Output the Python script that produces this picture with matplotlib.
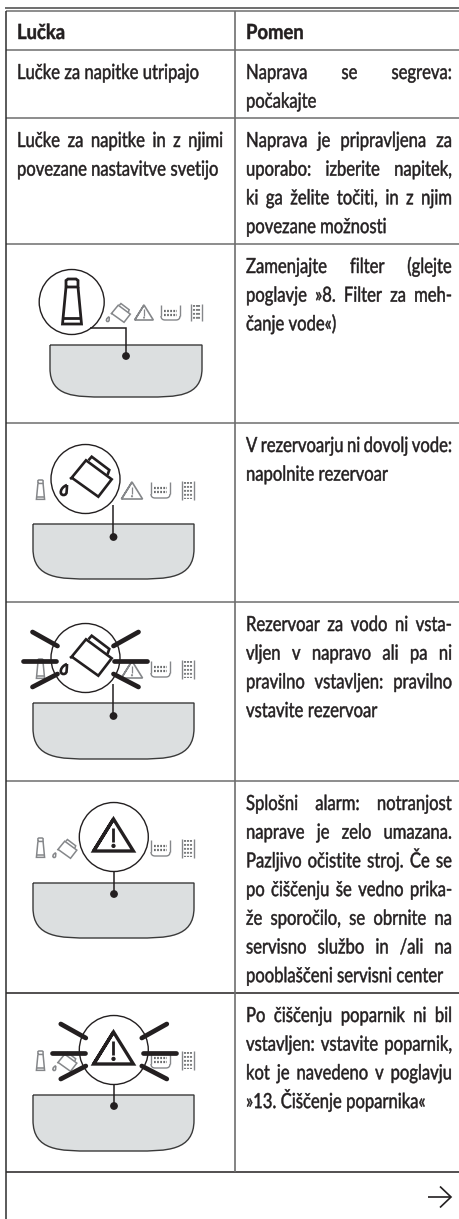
import matplotlib
matplotlib.use("Agg")
import matplotlib.pyplot as plt
from matplotlib.path import Path
from matplotlib.patches import PathPatch, Circle
from matplotlib.patheffects import AbstractPathEffect
from matplotlib.text import Text
from matplotlib.transforms import Affine2D, Bbox

plt.rcParams['font.family'] = ['Lato', 'Open Sans', 'DejaVu Sans']

INK = '#231f20'
GREY = '#85878a'
RULE = '#6e6e6e'
TRAY = '#dcdfe0'

# row edges of the table (pixels from the top)
row_edges = [11, 50, 118, 244, 423, 602, 781, 993, 1172]

header = ["Lučka", "Pomen"]

# first column text, (line, justified)
left_text = {
    1: [("Lučke za napitke utripajo", False)],
    2: [("Lučke za napitke in z njimi", True),
        ("povezane nastavitve svetijo", False)],
}

# second column text, (line, justified)
right_text = {
    1: [("Naprava se segreva:", True), ("počakajte", False)],
    2: [("Naprava je pripravljena za", True), ("uporabo: izberite napitek,", True),
        ("ki ga želite točiti, in z njim", True), ("povezane možnosti", False)],
    3: [("Zamenjajte filter (glejte", True), ("poglavje »8. Filter za meh-", True),
        ("čanje vode«)", False)],
    4: [("V rezervoarju ni dovolj vode:", True), ("napolnite rezervoar", False)],
    5: [("Rezervoar za vodo ni vsta-", True), ("vljen v napravo ali pa ni", True),
        ("pravilno vstavljen: pravilno", True), ("vstavite rezervoar", False)],
    6: [("Splošni alarm: notranjost", True), ("naprave je zelo umazana.", True),
        ("Pazljivo očistite stroj. Če se", True), ("po čiščenju še vedno prika-", True),
        ("že sporočilo, se obrnite na", True), ("servisno službo in /ali na", True),
        ("pooblaščeni servisni center", False)],
    7: [("Po čiščenju poparnik ni bil", True), ("vstavljen: vstavite poparnik,", True),
        ("kot je navedeno v poglavju", True), ("»13. Čiščenje poparnika«", False)],
}

FONT_SIZE = 15.0
LINE_H = 28.7

fig = plt.figure(figsize=(4.6, 12.19), dpi=100)
ax = fig.add_axes([0, 0, 1, 1])
ax.set_xlim(0, 460)
ax.set_ylim(1219, 0)
ax.axis('off')


class Squeeze(AbstractPathEffect):
    # the reference font is condensed, none of the installed ones is
    def __init__(self, sx):
        super().__init__()
        self.sx = sx

    def draw_path(self, renderer, gc, tpath, affine, rgbFace=None):
        m = affine.get_matrix().copy()
        m[0, 0] *= self.sx
        m[0, 1] *= self.sx
        gc0 = renderer.new_gc()
        gc0.copy_properties(gc)
        gc0.set_linewidth(0.35)
        gc0.set_foreground(INK)
        renderer.draw_path(gc0, tpath, Affine2D(m), rgbFace)
        gc0.restore()


class NarrowText(Text):
    sx = 1.0

    def get_window_extent(self, renderer=None, dpi=None):
        bb = super().get_window_extent(renderer, dpi)
        return Bbox.from_extents(bb.x0, bb.y0, bb.x0 + bb.width * self.sx, bb.y1)


def raw_width(s, weight='normal'):
    t = ax.text(0, 0, s, fontsize=FONT_SIZE, fontweight=weight)
    w = t.get_window_extent(fig.canvas.get_renderer()).width
    t.remove()
    return w


# widths measured on the reference
SX = 182 / raw_width("Lučke za napitke utripajo")
SX_BOLD = 58 / raw_width("Pomen", 'bold')


def draw_line(x0, x1, y, line, justified, weight='normal'):
    # las palabras una por una para poder justificar
    sx = SX_BOLD if weight == 'bold' else SX
    words = line.split(' ')
    widths = [raw_width(w, weight) * sx for w in words]
    if justified and len(words) > 1:
        gap = (x1 - x0 - sum(widths)) / (len(words) - 1)
    else:
        gap = (raw_width('a a', weight) - raw_width('aa', weight)) * sx
    x = x0
    for w, wd in zip(words, widths):
        t = NarrowText(x, y, w, fontsize=FONT_SIZE, color=INK, fontweight=weight, ha='left', va='baseline')
        t.sx = sx
        t.set_path_effects([Squeeze(sx)])
        ax.add_artist(t)
        x += wd + gap


def stroke(xs, ys, color=INK, lw=1.0, cap='butt', z=3):
    ax.plot(xs, ys, color=color, lw=lw, solid_capstyle=cap, solid_joinstyle='miter', zorder=z)


def tray(x0, x1, top, bottom):
    w = x1 - x0
    h = bottom - top
    verts = [(x0, top), (x1, top), (x1, top + h * .45),
             (x1, bottom), (x1 - w * .17, bottom), (x1 - w * .36, bottom),
             (x0 + w * .36, bottom),
             (x0 + w * .17, bottom), (x0, bottom), (x0, top + h * .45), (x0, top)]
    codes = [Path.MOVETO, Path.LINETO, Path.LINETO,
             Path.CURVE4, Path.CURVE4, Path.CURVE4,
             Path.LINETO,
             Path.CURVE4, Path.CURVE4, Path.CURVE4, Path.LINETO]
    ax.add_patch(PathPatch(Path(verts, codes), fc=TRAY, ec='#3a3a3a', lw=1.0, zorder=2))


def tube(cx, top, s, color, lw):
    # s=1 is the big tube, 46 px high
    stroke([cx - 6 * s, cx - 6 * s, cx - 4 * s, cx + 4 * s, cx + 6 * s, cx + 6 * s, cx - 6 * s],
           [top + 8 * s, top + 1.5 * s, top, top, top + 1.5 * s, top + 8 * s, top + 8 * s], color, lw)
    stroke([cx - 6 * s, cx - 9.5 * s, cx + 9.5 * s, cx + 6 * s],
           [top + 8 * s, top + 45 * s, top + 45 * s, top + 8 * s], color, lw)
    stroke([cx - 9 * s, cx + 9 * s], [top + 39 * s, top + 39 * s], color, lw)


def pitcher(cx, cy, s, color, lw):
    def P(pts):
        return [cx + p[0] * s for p in pts], [cy + p[1] * s for p in pts]
    xs, ys = P([(-15.5, 0), (-13.8, -1.3), (0.5, -18.7), (26.2, 0.3), (12.8, 17.7), (-13.8, -1.3)])
    stroke(xs, ys, color, lw)
    xs, ys = P([(3, -18.7), (6.2, -22.3), (23.8, -9), (22, -4)])
    stroke(xs, ys, color, lw)
    # gota
    dx, dy = cx - 22 * s, cy + 11.5 * s
    verts = [(dx + 3.5 * s, dy - 5.5 * s), (dx + 3 * s, dy - 1 * s), (dx + 4.5 * s, dy + 4.5 * s), (dx, dy + 4.5 * s),
             (dx - 4.5 * s, dy + 4.5 * s), (dx - 3.5 * s, dy - 3 * s), (dx + 3.5 * s, dy - 5.5 * s)]
    codes = [Path.MOVETO] + [Path.CURVE4] * 6
    ax.add_patch(PathPatch(Path(verts, codes), fc='white', ec=color, lw=lw, zorder=3))


def triangle(cx, top, bottom, color, lw, lw_in):
    half = (bottom - top) * .62
    stroke([cx - half, cx, cx + half, cx - half, cx],
           [bottom, top, bottom, bottom, top], color, lw)
    h = bottom - top
    stroke([cx, cx], [top + h * .28, top + h * .72], color, lw_in)
    ax.add_patch(Circle((cx, top + h * .84), h * .045, fc=color, ec=color, lw=lw_in * .5, zorder=3))


def water_box(x0, x1, top, bottom):
    stroke([x0, x0], [top, bottom - 4], GREY, 1.0)
    stroke([x1, x1], [top, bottom - 4], GREY, 1.0)
    verts = [(x0, bottom - 4), (x0, bottom), (x0 + 4, bottom), (x1 - 4, bottom), (x1, bottom), (x1, bottom - 4)]
    codes = [Path.MOVETO, Path.CURVE3, Path.CURVE3, Path.LINETO, Path.CURVE3, Path.CURVE3]
    ax.add_patch(PathPatch(Path(verts, codes), fc='none', ec=GREY, lw=1.0, zorder=3))
    for yy in (top + 6, top + 10):
        ax.plot([x0 + 3, x1 - 3], [yy, yy], color='#6a6c6d', lw=1.6, ls=(0, (0.8, 0.6)), zorder=3)


def filter_icon(x0, x1, top, bottom):
    for xx in (x0, x1):
        stroke([xx, xx], [top, bottom], GREY, 1.0)
    for xx in (x0 + 3, x0 + 6, x1 - 3):
        ax.plot([xx, xx], [top + 1, bottom - 1], color='#7a7c7d', lw=1.5, ls=(0, (0.9, 1.0)), zorder=3)


def small_icons(cx_tube, tube_top, pitch, tri, box, filt, skip=None):
    if skip != 'tube':
        tube(cx_tube, tube_top, .43, GREY, 1.1)
    if skip != 'pitcher':
        pitcher(pitch[0], pitch[1], .47, GREY, 1.1)
    if skip != 'triangle':
        triangle(tri[0], tri[1], tri[2], GREY, 1.2, 0.9)
    water_box(*box)
    filter_icon(*filt)


def big_circle(cx, cy, r):
    ax.add_patch(Circle((cx, cy), r, fc='white', ec=INK, lw=1.0, zorder=2.5))


def rays(cx, cy):
    for sign in (-1, 1):
        stroke([cx + sign * 29, cx + sign * 62], [cy + 2.5, cy + 2.5], INK, 3.4, 'round', 6)
        stroke([cx + sign * 28, cx + sign * 53], [cy - 12, cy - 26], INK, 3.4, 'round', 6)
        stroke([cx + sign * 28, cx + sign * 53], [cy + 16, cy + 29], INK, 3.4, 'round', 6)


def leader(xs, ys):
    stroke(xs, ys, INK, 1.1, z=5)
    ax.add_patch(Circle((xs[-1], ys[-1]), 3.9, fc=INK, ec=INK, lw=0, zorder=6))


# table rules
stroke([5, 460], [7.5, 7.5], '#555555', 1.2)
for y in row_edges:
    col = INK if y in (993, 1172) else RULE
    stroke([6, 460], [y, y], col, 1.1)
stroke([6.5, 6.5], [11, 1219], '#2e2e2e', 1.1)
stroke([235, 235], [11, 1172], RULE, 1.2)

# text
draw_line(17, 223, row_edges[0] + 28, header[0], False, 'bold')
draw_line(246, 452, row_edges[0] + 28, header[1], False, 'bold')
for r, lines in left_text.items():
    for i, (s, j) in enumerate(lines):
        draw_line(17, 223, row_edges[r] + 29 + LINE_H * i, s, j)
for r, lines in right_text.items():
    for i, (s, j) in enumerate(lines):
        draw_line(246, 452, row_edges[r] + 29 + LINE_H * i, s, j)

# panel row 3: tube selected
tray(50, 202, 345, 397)
small_icons(0, 0, (118, 314), (144, 305, 320), (161, 180, 305, 320), (191, 202, 304, 321), skip='tube')
big_circle(71.7, 302, 32.5)
tube(72, 279, 1, INK, 2.0)
leader([90, 126, 126], [328, 328, 356])

# panel row 4: pitcher selected
tray(33, 194, 524, 579)
small_icons(40.5, 480, (0, 0), (132, 482, 499), (151, 170, 482, 498), (182, 194, 481, 500), skip='pitcher')
big_circle(85.5, 479, 34.5)
pitcher(85.5, 479, 1, INK, 1.9)
leader([113.5, 113.5], [505, 537])

# panel row 5: pitcher flashing
tray(33, 194, 703, 759)
small_icons(40.5, 659, (0, 0), (132, 661, 678), (151, 170, 661, 677), (182, 194, 660, 679), skip='pitcher')
big_circle(85.5, 658, 34.5)
pitcher(85.5, 658, 1, INK, 1.9)
rays(85.5, 658)
leader([113.5, 113.5], [684, 716])

# panel row 6: alarm
tray(33, 194, 883, 938)
small_icons(40.5, 838, (64.5, 850), (0, 0, 0), (151, 170, 840, 856), (182, 194, 839, 858), skip='triangle')
big_circle(113.8, 837, 34.5)
triangle(113.5, 819, 851, INK, 2.4, 2.0)
leader([114, 114], [871.5, 894])

# panel row 7: alarm flashing
tray(33, 194, 1095, 1151)
small_icons(40.5, 1051, (64.5, 1063), (0, 0, 0), (151, 170, 1052, 1068), (182, 194, 1051, 1070), skip='triangle')
big_circle(113.8, 1050, 34.5)
triangle(113.5, 1032, 1064, INK, 2.4, 2.0)
rays(113.8, 1050)
leader([114, 114], [1084, 1106])

# continue arrow
stroke([428, 450], [1197, 1197], INK, 1.2)
stroke([440, 451, 440], [1186.5, 1197, 1207.5], INK, 1.2)

fig.savefig('out.png', dpi=100)
